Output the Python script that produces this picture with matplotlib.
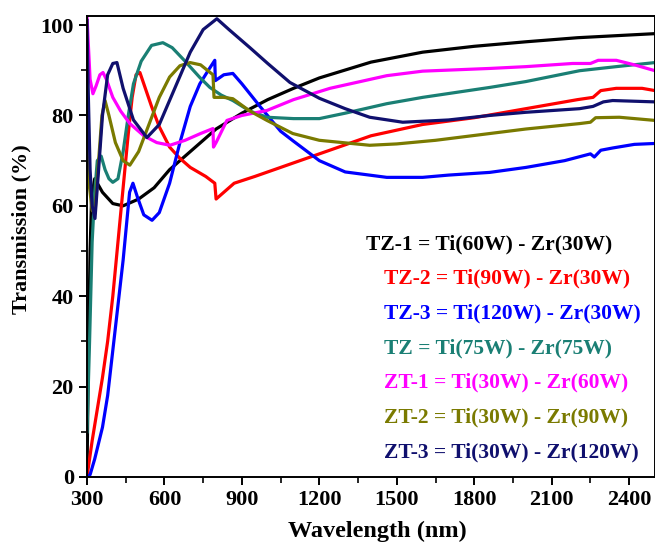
import matplotlib.pyplot as plt
from matplotlib.ticker import MultipleLocator

# wavelength (nm) / transmission (%)
tz1_x = [300, 305, 312, 318, 330, 360, 400, 440, 500, 560, 620, 700, 800, 900, 1000,
         1100, 1200, 1400, 1600, 1800, 2000, 2200, 2400, 2500]
tz1_y = [0, 25, 50, 62, 66, 63, 60.5, 60, 61.5, 64, 68, 72, 77, 80.5, 83.5,
         86, 88.3, 91.8, 94, 95.3, 96.3, 97.2, 97.8, 98.1]

tz2_x = [300, 320, 340, 360, 380, 400, 420, 440, 460, 475, 490, 505, 520, 550, 580,
         620, 660, 700, 760, 795, 800, 830, 870, 950, 1050, 1150, 1250, 1400, 1600,
         1800, 2000, 2200, 2260, 2290, 2350, 2450, 2500]
tz2_y = [0, 8, 15, 22, 30, 40, 52, 64, 76, 84, 89, 89.5, 87, 82, 77.5,
         73, 70.5, 68.5, 66.5, 65, 61.5, 63, 65, 66.5, 68.5, 70.5, 72.5, 75.5, 78,
         79.5, 81.5, 83.5, 84, 85.5, 86, 86, 85.5]

tz3_x = [300, 312, 330, 360, 380, 400, 420, 440, 455, 465, 478, 495, 520, 552, 580,
         620, 660, 700, 737, 770, 795, 797, 830, 865, 900, 970, 1050, 1100, 1200,
         1300, 1461, 1600, 1700, 1860, 2000, 2150, 2250, 2265, 2290, 2336, 2420, 2500]
tz3_y = [0, 0.5, 4, 11, 18, 28, 38, 48, 57, 63, 65, 62, 58, 56.8, 58.5,
         65, 74, 82, 87, 90, 92.2, 87.7, 89, 89.3, 87, 82, 76.5, 74.3, 70,
         67.5, 66.3, 66.3, 66.8, 67.4, 68.5, 70, 71.5, 70.8, 72.3, 72.8, 73.6, 73.8]

tz_x = [300, 310, 320, 330, 340, 355, 370, 385, 400, 420, 440, 460, 480, 510, 550,
        594, 630, 680, 737, 776, 820, 865, 930, 997, 1100, 1200, 1300, 1461, 1600,
        1860, 2000, 2208, 2350, 2500]
tz_y = [10, 30, 52, 63, 70, 71, 68, 66, 65.2, 66, 72, 80, 87, 92, 95.5,
        96.1, 95, 92, 88.4, 86.2, 84.5, 83.3, 81, 79.6, 79.3, 79.3, 80.5, 82.6, 84,
        86.2, 87.5, 89.9, 90.8, 91.7]

zt1_x = [300, 305, 312, 323, 335, 350, 362, 375, 400, 430, 466, 520, 570, 621, 680,
         740, 788, 790, 800, 842, 900, 997, 1100, 1241, 1461, 1600, 1860, 2000, 2181,
         2250, 2280, 2350, 2420, 2500]
zt1_y = [102, 96, 88, 84.8, 86.5, 89, 89.5, 88, 84, 81, 78.2, 75.5, 74, 73.4, 74.5,
         76, 77.1, 73, 74, 78.9, 80, 81.1, 83.5, 86, 88.8, 89.8, 90.4, 90.8, 91.5,
         91.5, 92.2, 92.2, 91.2, 89.9]

zt2_x = [300, 310, 320, 331, 345, 358, 370, 385, 410, 440, 466, 500, 540, 580, 620,
         660, 699, 740, 788, 792, 830, 865, 930, 997, 1097, 1200, 1395, 1500, 1650,
         1860, 2000, 2208, 2250, 2270, 2362, 2500]
zt2_y = [72, 64, 59, 58.3, 70, 80, 83.3, 80, 74, 70, 69, 72, 78, 84, 88.5,
         91, 91.7, 91.2, 89, 84, 84, 83.7, 81, 78.9, 76, 74.5, 73.4, 73.7, 74.5,
         76, 77, 78.2, 78.5, 79.5, 79.6, 78.9]

zt3_x = [300, 305, 312, 320, 331, 345, 360, 380, 400, 416, 440, 480, 532, 580, 640,
         700, 750, 803, 850, 931, 1000, 1086, 1200, 1300, 1395, 1523, 1700, 1860, 2000,
         2208, 2260, 2300, 2336, 2500]
zt3_y = [101, 85, 68, 60, 57.2, 68, 80, 89, 91.5, 91.7, 86, 79, 75.1, 78, 86,
         94, 99, 101.4, 99, 95, 91.5, 87.3, 83.8, 81.5, 79.6, 78.5, 79, 80, 80.7,
         81.5, 82, 83, 83.3, 83]

labels = ['TZ-1 = Ti(60W) - Zr(30W)', 'TZ-2 = Ti(90W) - Zr(30W)',
          'TZ-3 = Ti(120W) - Zr(30W)', 'TZ = Ti(75W) - Zr(75W)',
          'ZT-1 = Ti(30W) - Zr(60W)', 'ZT-2 = Ti(30W) - Zr(90W)',
          'ZT-3 = Ti(30W) - Zr(120W)']
colors = ['black', '#ff0000', '#0000ff', '#1a7f74', '#ff00ff', '#7a7a00', '#10106e']

series = [(tz1_x, tz1_y), (tz2_x, tz2_y), (tz3_x, tz3_y), (tz_x, tz_y),
          (zt1_x, zt1_y), (zt2_x, zt2_y), (zt3_x, zt3_y)]

plt.rcParams['font.family'] = 'Liberation Serif'
plt.rcParams['font.weight'] = 'bold'

fig = plt.figure(figsize=(6.55, 5.45), dpi=100)
ax = fig.add_axes([0.1328, 0.1248, 0.8672, 0.8458])

for (x, y), c in zip(series, colors):
    ax.plot(x, y, color=c, lw=2.3, solid_joinstyle='round')

ax.set_xlim(300, 2500)
ax.set_ylim(0, 102)
ax.xaxis.set_major_locator(MultipleLocator(300))
ax.xaxis.set_minor_locator(MultipleLocator(150))
ax.yaxis.set_major_locator(MultipleLocator(20))
ax.yaxis.set_minor_locator(MultipleLocator(10))
ax.tick_params(which='major', direction='out', length=6, width=1.4, labelsize=16)
ax.tick_params(which='minor', direction='out', length=4, width=1.2)
for sp in ax.spines.values():
    sp.set_linewidth(1.4)

ax.set_xlabel('Wavelength (nm)', fontsize=17.5, fontweight='bold')
ax.set_ylabel('Transmission (%)', fontsize=16, fontweight='bold')
ax.xaxis.set_label_coords(0.512, -0.095)
ax.yaxis.set_label_coords(-0.098, 0.538)

# legend written as coloured text lines
text_x = [0.491, 0.523, 0.523, 0.523, 0.523, 0.523, 0.523]
for i, (lab, c) in enumerate(zip(labels, colors)):
    ax.text(text_x[i], 0.505 - i * 0.0752, lab, color=c, fontsize=15.5,
            fontweight='bold', transform=ax.transAxes, va='center', ha='left')

fig.savefig('out.png', dpi=100)
